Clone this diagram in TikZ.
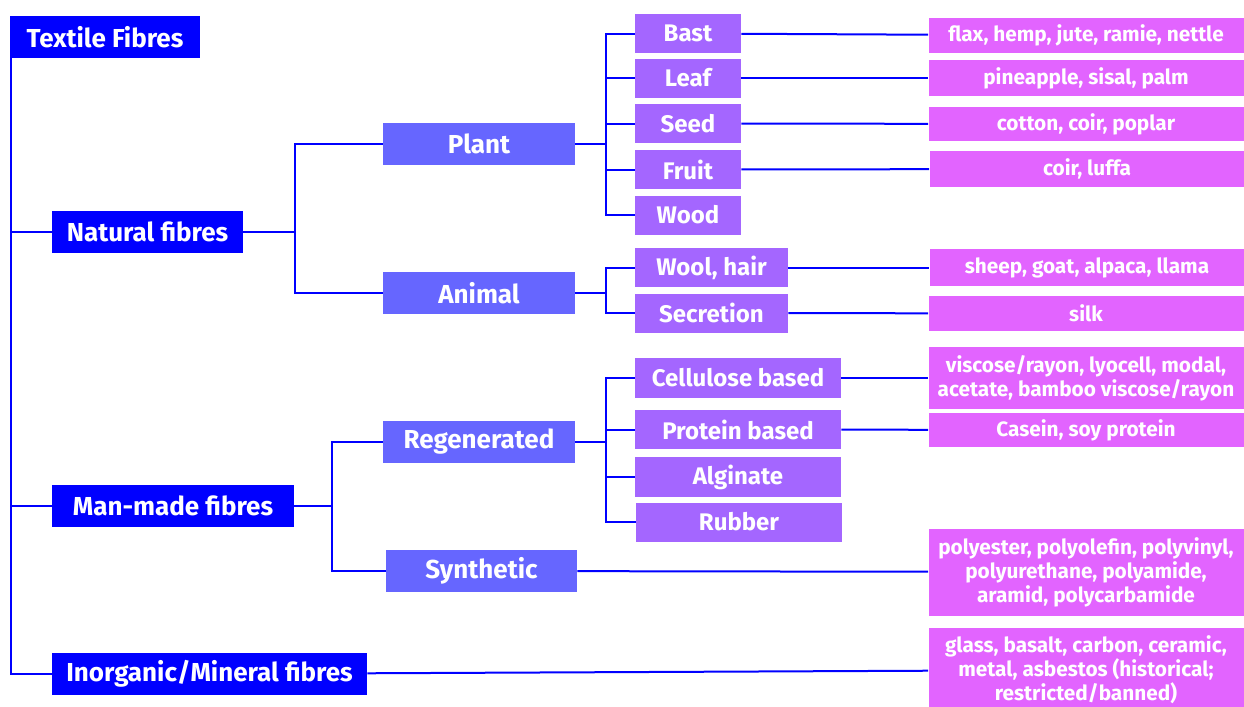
\documentclass[tikz,border=0pt]{standalone}
\usepackage{fontspec}
\setmainfont{Fira Sans}
\definecolor{lvlblue}{HTML}{0000FF}
\definecolor{lvlperi}{HTML}{6666FF}
\definecolor{lvlpurple}{HTML}{A466FF}
\definecolor{lvlpink}{HTML}{E264FF}

\begin{document}
\begin{tikzpicture}[x=0.5pt, y=-0.5pt,
    box/.style = {rectangle, inner sep=0pt, text=white, align=center},
    lvlA/.style = {box, fill=lvlblue, minimum height=21pt,
        font=\bfseries\fontsize{13}{15}\selectfont},
    lvlB/.style = {box, fill=lvlperi, minimum height=21pt,
        font=\bfseries\fontsize{13}{15}\selectfont},
    lvlC/.style = {box, fill=lvlpurple, minimum height=19.5pt,
        font=\bfseries\fontsize{12}{14}\selectfont},
    lvlD/.style = {box, fill=lvlpink, minimum width=157.5pt,
        font=\bfseries\fontsize{10.4}{12}\selectfont},
    link/.style = {draw=lvlblue, line width=1pt}]

\useasboundingbox (0,0) rectangle (1244,707);

% Root and main groups
\node[lvlA, minimum width=95pt] (tf) at (105,37) {Textile Fibres};
\node[lvlA, minimum width=95.5pt] (nat) at (147.5,232) {Natural fibres};
\node[lvlA, minimum width=121pt] (man) at (173,506) {Man-made fibres};
\node[lvlA, minimum width=157.5pt] (inorg) at (209.5,674) {Inorganic/Mineral fibres};

% Second level
\node[lvlB, minimum width=96pt] (plant) at (479,144) {Plant};
\node[lvlB, minimum width=96pt] (animal) at (479,293) {Animal};
\node[lvlB, minimum width=96pt] (regen) at (479,442) {Regenerated};
\node[lvlB, minimum width=95.5pt] (synth) at (481.5,571) {Synthetic};

% Third level
\node[lvlC, minimum width=53pt] (bast) at (688,33.5) {Bast};
\node[lvlC, minimum width=53pt] (leaf) at (688,78) {Leaf};
\node[lvlC, minimum width=53pt] (seed) at (688,123.5) {Seed};
\node[lvlC, minimum width=53pt] (fruit) at (688,169.5) {Fruit};
\node[lvlC, minimum width=53pt] (wood) at (688,215) {Wood};
\node[lvlC, minimum width=76.5pt] (wool) at (711.5,267.5) {Wool, hair};
\node[lvlC, minimum width=76.5pt] (secr) at (711.5,313) {Secretion};
\node[lvlC, minimum width=103pt, minimum height=20pt] (cell) at (738,378) {Cellulose based};
\node[lvlC, minimum width=103pt] (prot) at (738,429.5) {Protein based};
\node[lvlC, minimum width=103pt, minimum height=20pt] (algi) at (738,477) {Alginate};
\node[lvlC, minimum width=103pt] (rubb) at (739,522) {Rubber};

% Examples
\node[lvlD, minimum height=17.5pt] (flax) at (1086,35.5) {flax, hemp, jute, ramie, nettle};
\node[lvlD, minimum height=18pt] (pine) at (1086,78) {pineapple, sisal, palm};
\node[lvlD, minimum height=17pt] (cott) at (1086,124) {cotton, coir, poplar};
\node[lvlD, minimum height=18pt] (coir) at (1087,169) {coir, luffa};
\node[lvlD, minimum height=18.5pt] (shee) at (1087,267.5) {sheep, goat, alpaca, llama};
\node[lvlD, minimum height=17.5pt] (silk) at (1086,313.5) {silk};
\node[lvlD, minimum height=31pt] (visc) at (1086,378) {viscose/rayon, lyocell, modal,\\acetate, bamboo viscose/rayon};
\node[lvlD, minimum height=17pt] (case) at (1086,430) {Casein, soy protein};
\node[lvlD, minimum height=43.5pt] (poly) at (1086,572) {polyester, polyolefin, polyvinyl,\\polyurethane, polyamide,\\aramid, polycarbamide};
\node[lvlD, minimum height=42pt] (glas) at (1086,670) {glass, basalt, carbon, ceramic,\\metal, asbestos (historical;\\restricted/banned)};

% Trunk
\draw[link] ([xshift=0.5pt]tf.south west) |- (nat.west);
\draw[link] ([xshift=0.5pt]tf.south west) |- (man.west);
\draw[link] ([xshift=0.5pt]tf.south west) |- (inorg.west);

% Branches
\draw[link] (nat.east) -- ++(52,0) |- (plant.west);
\draw[link] (nat.east) -- ++(52,0) |- (animal.west);
\draw[link] (man.east) -- ++(38,0) |- (regen.west);
\draw[link] (man.east) -- ++(38,0) |- (synth.west);
\foreach \n in {bast,leaf,seed,fruit,wood}
    \draw[link] (plant.east) -- ++(31,0) |- (\n.west);
\foreach \n in {wool,secr}
    \draw[link] (animal.east) -- ++(31,0) |- (\n.west);
\foreach \n in {cell,prot,algi,rubb}
    \draw[link] (regen.east) -- ++(31,0) |- (\n.west);

% To examples
\draw[link] (bast) -- (flax);
\draw[link] (leaf) -- (pine);
\draw[link] (seed) -- (cott);
\draw[link] (fruit) -- (coir);
\draw[link] (wool) -- (shee);
\draw[link] (secr) -- (silk);
\draw[link] (cell) -- (visc);
\draw[link] (prot) -- (case);
\draw[link] (synth) -- (poly);
\draw[link] (inorg) -- (glas);

\end{tikzpicture}
\end{document}
